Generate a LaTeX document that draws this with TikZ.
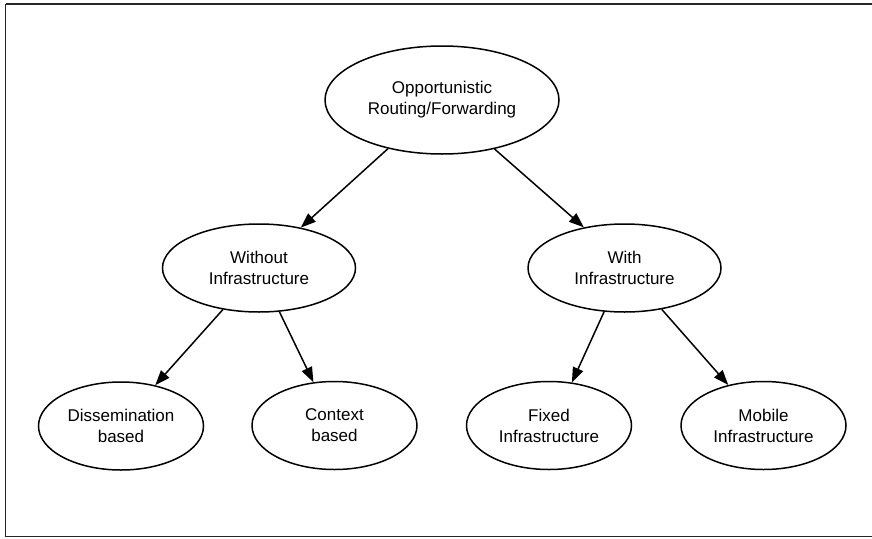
\documentclass[tikz,border=0pt]{standalone}
\usepackage{fontspec}
\setmainfont{Liberation Sans}
\usetikzlibrary{shapes.geometric,arrows.meta}

\tikzset{
  topic/.style={draw=black, line width=1.5pt, ellipse, inner sep=0pt,
    align=center, font=\fontsize{17}{21}\selectfont},
  bigtopic/.style={topic, minimum width=234pt, minimum height=108pt},
  midtopic/.style={topic, minimum width=193pt, minimum height=88pt},
  leaftopic/.style={topic, minimum width=165pt, minimum height=88pt},
  link/.style={line width=1.5pt, -{Triangle[length=15pt,width=11pt]}},
  frame/.style={draw=black!85, line width=1.8pt}
}

\begin{document}
\begin{tikzpicture}[x=1pt, y=-1pt]
  \useasboundingbox (0,0) rectangle (872,538);
  \draw[frame] (5.5,4) -- (880,4) (5.5,4) -- (5.5,536.5) -- (880,536.5);

  % taxonomy
  \node[bigtopic]  (root)  at (442,100)   {Opportunistic\\Routing/Forwarding};
  \node[midtopic]  (wout)  at (259,268)   {Without\\Infrastructure};
  \node[midtopic]  (with)  at (624.5,268) {With\\Infrastructure};
  \node[leaftopic] (diss)  at (121,426)   {Dissemination\\based};
  \node[leaftopic] (ctx)   at (334.5,425.5) {Context\\based};
  \node[leaftopic] (fixed) at (549,425.5) {Fixed\\Infrastructure};
  \node[leaftopic] (mob)   at (763.5,425.5) {Mobile\\Infrastructure};

  % connectors
  \draw[link] (root.222)  -- (wout.44);
  \draw[link] (root.317)  -- (with.135);
  \draw[link] (wout.229)  -- (diss.50);
  \draw[link] (wout.295)  -- (ctx.116);
  \draw[link] (with.245)  -- (fixed.62);
  \draw[link] (with.312)  -- (mob.131);
\end{tikzpicture}
\end{document}
